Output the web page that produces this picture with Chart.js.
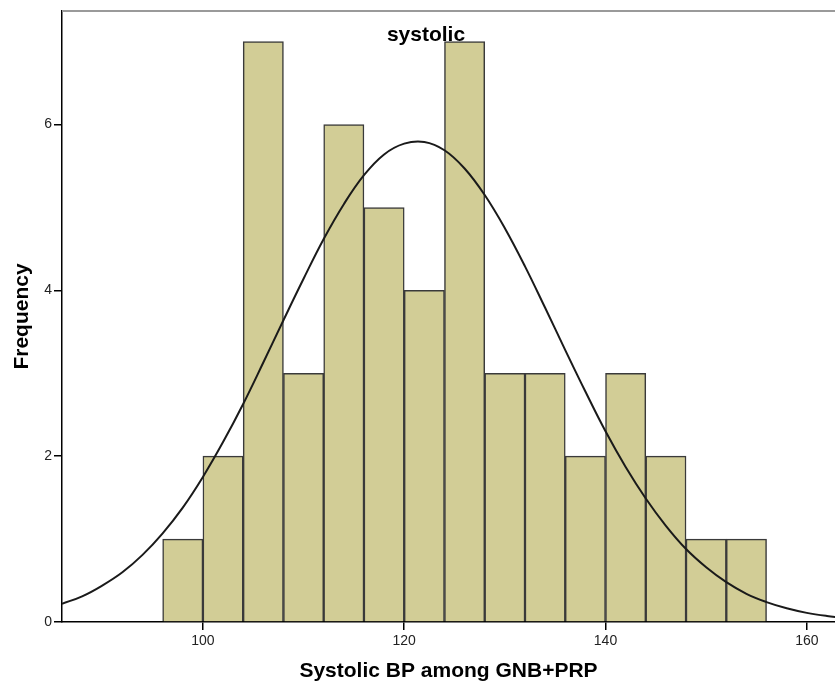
<!DOCTYPE html>
<html>
<head>
<meta charset="utf-8">
<script src="https://cdn.jsdelivr.net/npm/chart.js@4.4.1/dist/chart.umd.min.js"></script>
<style>
  html, body { margin: 0; padding: 0; background: #fff; }
  #wrap { width: 835px; height: 685px; }
</style>
</head>
<body>
<div id="wrap"><canvas id="grafico"></canvas></div>
<script>
// bins of width 4, centers
var binCenters = [98, 102, 106, 110, 114, 118, 122, 126, 130, 134, 138, 142, 146, 150, 154];
var frequencies = [1, 2, 7, 3, 6, 5, 4, 7, 3, 3, 2, 3, 2, 1, 1];

// normal curve
var curveX = [86, 88, 90, 92, 94, 96, 98, 100, 102, 104, 106, 108, 110, 112, 114, 116, 118, 120, 122, 124,
              126, 128, 130, 132, 134, 136, 138, 140, 142, 144, 146, 148, 150, 152, 154, 156, 158, 160, 162, 164];
var curveY = [0.22, 0.31, 0.44, 0.60, 0.81, 1.07, 1.38, 1.75, 2.17, 2.63, 3.13, 3.64, 4.14, 4.62, 5.04, 5.39, 5.64, 5.77, 5.79, 5.69,
              5.47, 5.15, 4.75, 4.29, 3.79, 3.28, 2.78, 2.30, 1.87, 1.49, 1.16, 0.88, 0.66, 0.48, 0.34, 0.24, 0.165, 0.11, 0.073, 0.047];

var xTicks = [100, 120, 140, 160];
var yTicks = [0, 2, 4, 6];

var barData = binCenters.map((x, i) => ({ x: x, y: frequencies[i] }));
var curveData = curveX.map((x, i) => ({ x: x, y: curveY[i] }));

var extras = {
    id: 'extras',
    afterDraw: function (chart) {
        var ctx = chart.ctx;
        var area = chart.chartArea;
        ctx.save();
        // gray frame on top
        ctx.strokeStyle = '#9a9a9a';
        ctx.lineWidth = 2;
        ctx.beginPath();
        ctx.moveTo(area.left, area.top);
        ctx.lineTo(area.right, area.top);
        ctx.stroke();
        // title inside the plot
        ctx.fillStyle = '#000';
        ctx.font = 'bold 21px "Liberation Sans", Arial, sans-serif';
        ctx.textAlign = 'center';
        ctx.textBaseline = 'middle';
        ctx.fillText('systolic', 426, 35);
        ctx.restore();
    }
};

new Chart(document.getElementById('grafico'), {
    data: {
        datasets: [{
            type: 'line',
            label: 'Normal',
            data: curveData,
            borderColor: '#1a1a1a',
            borderWidth: 2,
            pointRadius: 0,
            tension: 0.4,
            fill: false,
            order: 0
        }, {
            type: 'bar',
            label: 'Frequency',
            data: barData,
            backgroundColor: '#d2cd96',
            borderColor: '#3a3a3a',
            borderWidth: 1.5,
            barPercentage: 1,
            categoryPercentage: 1,
            grouped: false,
            order: 1
        }]
    },
    options: {
        responsive: true,
        maintainAspectRatio: false,
        animation: false,
        layout: { padding: { top: 11, right: 0, left: 0, bottom: 0 } },
        plugins: {
            legend: { display: false },
            tooltip: { enabled: false }
        },
        scales: {
            x: {
                type: 'linear',
                min: 86,
                max: 162.8,
                offset: false,
                afterFit: function (scale) { scale.height = 63; },
                afterBuildTicks: function (scale) { scale.ticks = xTicks.map(v => ({ value: v })); },
                border: { display: true, color: '#000', width: 1.5 },
                grid: { offset: false, drawOnChartArea: false, drawTicks: true, tickLength: 8, color: '#000', lineWidth: 1.5 },
                ticks: {
                    color: '#222',
                    padding: 3,
                    maxRotation: 0,
                    font: { family: '"Liberation Sans", Arial, sans-serif', size: 14 }
                },
                title: {
                    display: true,
                    text: 'Systolic BP among GNB+PRP',
                    color: '#000',
                    padding: { top: 0, bottom: 1 },
                    font: { family: '"Liberation Sans", Arial, sans-serif', size: 21, weight: 'bold' }
                }
            },
            y: {
                min: 0,
                max: 7.37,
                afterFit: function (scale) { scale.width = 62; },
                afterBuildTicks: function (scale) { scale.ticks = yTicks.map(v => ({ value: v })); },
                border: { display: true, color: '#000', width: 1.5 },
                grid: { drawOnChartArea: false, drawTicks: true, tickLength: 8, color: '#000', lineWidth: 1.5 },
                ticks: {
                    color: '#222',
                    padding: 2,
                    font: { family: '"Liberation Sans", Arial, sans-serif', size: 14 }
                },
                title: {
                    display: true,
                    text: 'Frequency',
                    color: '#000',
                    padding: { top: 10, bottom: 0 },
                    font: { family: '"Liberation Sans", Arial, sans-serif', size: 21, weight: 'bold' }
                }
            }
        }
    },
    plugins: [extras]
});
</script>
</body>
</html>
